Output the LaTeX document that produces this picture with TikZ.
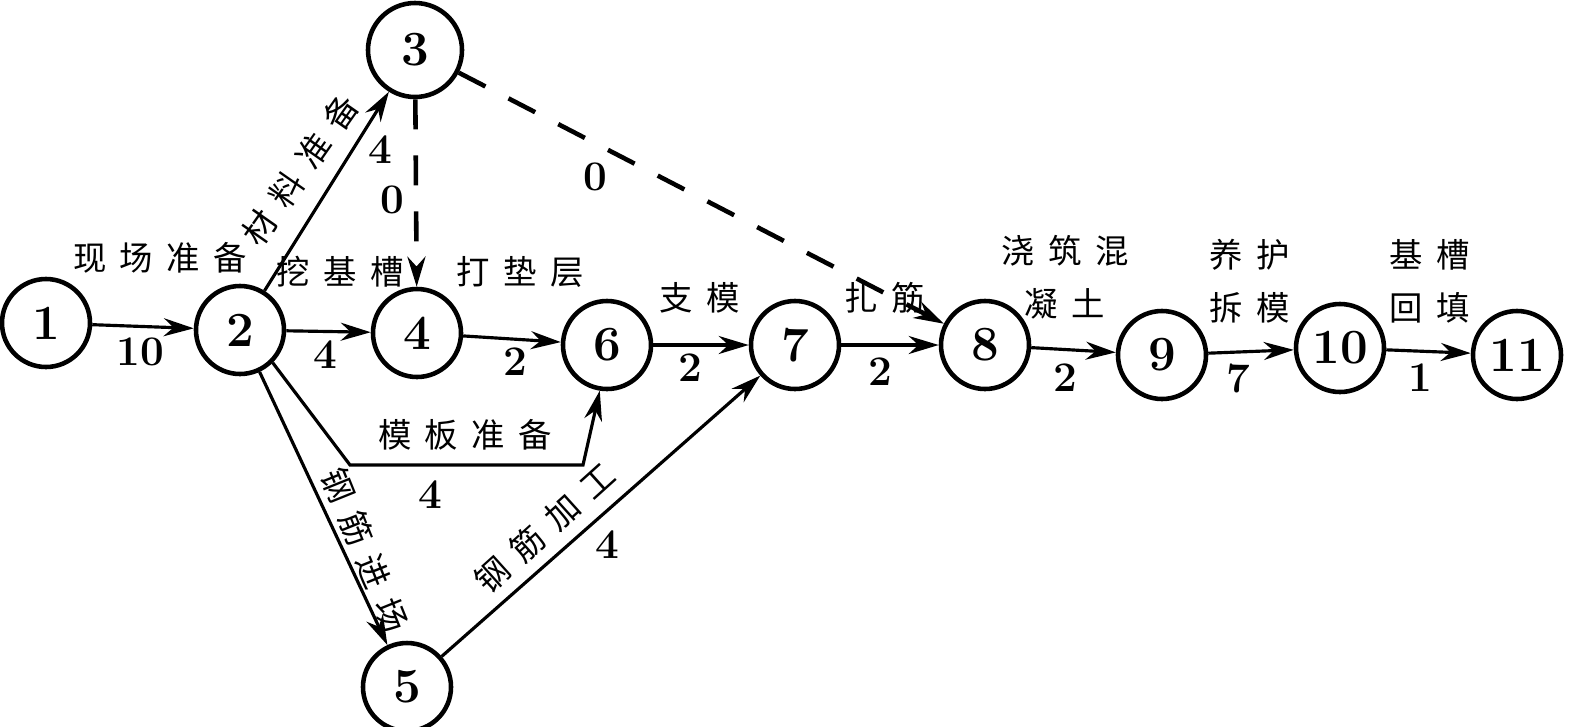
\documentclass[tikz,border=0pt]{standalone}
\usepackage{fontspec}
\usepackage{tikz}
\usetikzlibrary{arrows.meta}
\newfontfamily\cjk{Noto Sans CJK SC}[LetterSpace=40]

\tikzset{
  ev/.style={circle, draw, line width=1.3pt, minimum size=0.88cm, inner sep=0pt,
    font=\fontsize{14}{14}\selectfont\bfseries},
  act/.style={line width=0.9pt, -{Stealth[length=3mm,width=1.8mm]}},
  dum/.style={act, dash pattern=on 3mm off 2.6mm, line width=1.3pt},
  wk/.style={font=\cjk\fontsize{9.5}{15}\selectfont, inner sep=1pt, align=center},
  dur/.style={font=\fontsize{12}{12}\selectfont\bfseries, inner sep=1pt},
}

\begin{document}
\begin{tikzpicture}
  \useasboundingbox (0,0) rectangle (15.70,7.26);

  % events
  \node[ev] (n1)  at (0.46,4.03)  {1};
  \node[ev] (n2)  at (2.40,3.96)  {2};
  \node[ev, minimum size=0.94cm] (n3) at (4.15,6.76) {3};
  \node[ev] (n4)  at (4.17,3.93)  {4};
  \node[ev] (n5)  at (4.07,0.39)  {5};
  \node[ev] (n6)  at (6.07,3.81)  {6};
  \node[ev] (n7)  at (7.95,3.81)  {7};
  \node[ev] (n8)  at (9.85,3.81)  {8};
  \node[ev] (n9)  at (11.62,3.71) {9};
  \node[ev] (n10) at (13.40,3.78) {10};
  \node[ev] (n11) at (15.17,3.71) {11};

  \coordinate (m1) at (3.50,2.61);
  \coordinate (m2) at (5.83,2.61);

  % activities
  \draw[act] (n1) -- (n2);
  \draw[act] (n2) -- (n3);
  \draw[act] (n2) -- (n4);
  \draw[dum] (n3) -- (n4);
  \draw[dum] (n3) -- (n8);
  \draw[act] (n4) -- (n6);
  \draw[act] (n2.-45) -- (m1) -- (m2) -- (n6.-99);
  \draw[act] (n2) -- (n5);
  \draw[act] (n5) -- (n7);
  \draw[act] (n6) -- (n7);
  \draw[act] (n7) -- (n8);
  \draw[act] (n8) -- (n9);
  \draw[act] (n9) -- (n10);
  \draw[act] (n10) -- (n11);

  % names and durations
  \node[wk] (w12) at (1.60,4.68) {现场准备};
  \node[dur] (d12) at (1.40,3.74) {10};
  \node[wk, rotate=55] (w23) at (3.00,5.56) {材料准备};
  \node[dur] (d23) at (3.80,5.76) {4};
  \node[wk] (w24) at (3.40,4.54) {挖基槽};
  \node[dur] (d24) at (3.25,3.71) {4};
  \node[dur] (d34) at (3.92,5.26) {0};
  \node[wk] (w46) at (5.20,4.54) {打垫层};
  \node[dur] (d46) at (5.15,3.64) {2};
  \node[dur] (d38) at (5.95,5.49) {0};
  \node[wk] (w67) at (7.00,4.28) {支模};
  \node[dur] (d67) at (6.90,3.58) {2};
  \node[wk] (w78) at (8.85,4.28) {扎筋};
  \node[dur] (d78) at (8.80,3.54) {2};
  \node[wk] (w89) at (10.65,4.49) {浇筑混\\凝土};
  \node[dur] (d89) at (10.65,3.48) {2};
  \node[wk] (w910) at (12.50,4.45) {养护\\拆模};
  \node[dur] (d910) at (12.38,3.48) {7};
  \node[wk] (w1011) at (14.30,4.45) {基槽\\回填};
  \node[dur] (d1011) at (14.20,3.48) {1};
  \node[wk] (w26) at (4.65,2.91) {模板准备};
  \node[dur] (d26) at (4.30,2.31) {4};
  \node[wk, rotate=-68] (w25) at (3.65,1.76) {钢筋进场};
  \node[wk, rotate=42] (w57) at (5.45,1.98) {钢筋加工};
  \node[dur] (d57) at (6.07,1.81) {4};
\end{tikzpicture}
\end{document}
